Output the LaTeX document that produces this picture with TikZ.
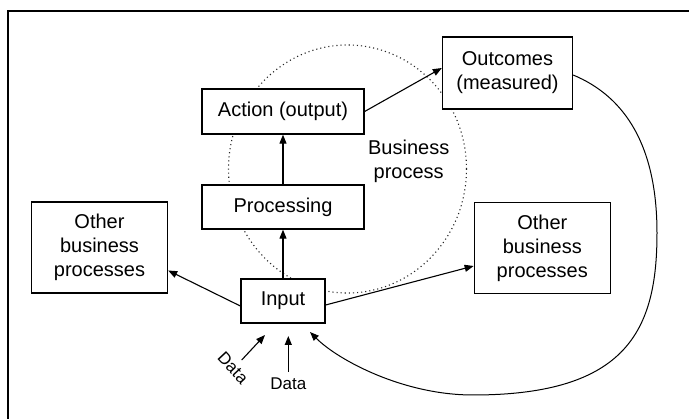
\documentclass[tikz,border=0pt]{standalone}
\usepackage{fontspec}
\setmainfont{Liberation Sans}
\usetikzlibrary{arrows.meta,calc}
\begin{document}
\begin{tikzpicture}[x=1pt,y=-1pt,
  box/.style={draw,line width=1.3pt,fill=white,align=center,inner sep=0pt,
    font=\fontsize{20}{24}\selectfont},
  arr/.style={line width=1.1pt,-{Triangle[length=9pt,width=7pt]}},
  lbl/.style={font=\fontsize{20}{24}\selectfont,align=center,inner sep=0pt},
  dlbl/.style={font=\fontsize{17}{20}\selectfont,inner sep=0pt},
  bpcircle/.style={line width=1.1pt,dash pattern=on 1.1pt off 3pt,black!85}]
\useasboundingbox (0,0) rectangle (689,419);
\fill[white] (0,0) rectangle (689,419);
% frame (top and left edges visible)
\draw[line width=2pt] (8,425) -- (8,11) -- (695,11);
% business process circle
\draw[bpcircle] (347.5,169) ellipse [x radius=119pt, y radius=124pt];
% boxes
\node[box,minimum width=162pt,minimum height=45pt] (act) at (283,111.5) {Action (output)};
\node[box,minimum width=162pt,minimum height=44pt] (proc) at (283,207) {Processing};
\node[box,minimum width=130pt,minimum height=72pt] (out) at (507.5,73) {Outcomes\\(measured)};
\node[box,minimum width=136pt,minimum height=91pt] (oleft) at (99.5,247.5) {Other\\business\\processes};
\node[box,minimum width=136pt,minimum height=91pt] (oright) at (542.3,248) {Other\\business\\processes};
\node[box,minimum width=84pt,minimum height=44pt] (in) at (283,301) {Input};
\node[lbl] (bp) at (408.7,161) {Business\\process};
% data labels
\node[dlbl,rotate=-47] (d1) at (233,368) {Data};
\node[dlbl] (d2) at (288.3,383.5) {Data};
\coordinate (d1s) at (241.7,360);
\coordinate (d1e) at (265,335);
\coordinate (d2s) at (288.3,371.7);
\coordinate (d2e) at (288.3,336);
\coordinate (fb) at (310,332);
% connectors
\draw[arr] (in.north) -- (proc.south);
\draw[arr] (proc.north) -- (act.south);
\draw[arr] (act.east) -- ([yshift=5pt]out.west);
\draw[arr] ([yshift=-5pt]in.west) -- ([yshift=-23pt]oleft.east);
\draw[arr] ([yshift=-4pt]in.east) -- ([yshift=-18pt]oright.west);
\draw[arr] (d1s) -- (d1e);
\draw[arr] (d2s) -- (d2e);
\draw[arr,line width=1pt] ([yshift=-2pt]out.east)
  .. controls (626,97) and (657,147) .. (657,233)
  .. controls (657,329) and (628,395) .. (473,395)
  .. controls (403,395) and (338,360) .. (fb);
\end{tikzpicture}
\end{document}
